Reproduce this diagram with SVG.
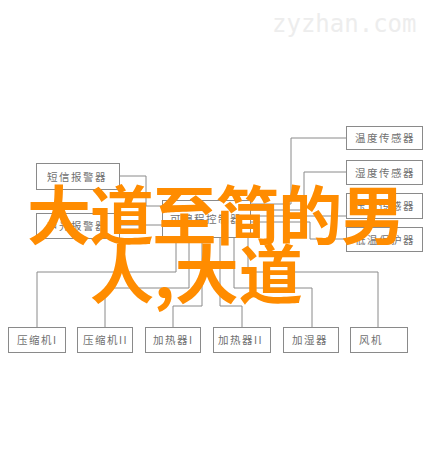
<svg xmlns="http://www.w3.org/2000/svg" width="430" height="472" viewBox="0 0 430 472">
<style>
.box{fill:#fff;stroke:#8a8a8a;stroke-width:1}
.lbl{font-family:"Noto Sans CJK SC","Liberation Serif",serif;font-size:10.5px;fill:#707070;letter-spacing:1.5px}
.wire{fill:none;stroke:#8a8a8a;stroke-width:1}
.big{font-family:"Noto Sans CJK SC","Noto Sans",sans-serif;font-weight:bold;font-size:64px;fill:#ff8c00}
.wm{font-family:"DejaVu Sans Mono","Liberation Mono",monospace;font-size:24px;fill:#ededed}
</style>
<rect width="430" height="472" fill="#fff"/>
<text class="wm" x="272" y="32">zyzhan.com</text>
<g id="connectors">
<path class="wire" d="M37,327V272H176V237"/>
<path class="wire" d="M105,327V288H189V237"/>
<path class="wire" d="M173,327V306H202V237"/>
<path class="wire" d="M242,327V306H220V237"/>
<path class="wire" d="M312,327V288H234V237"/>
<path class="wire" d="M378,327V272H248V237"/>
<path class="wire" d="M250,204H291V138H346"/>
<path class="wire" d="M250,210H304V172H346"/>
<path class="wire" d="M250,216H346"/>
<path class="wire" d="M250,222H310V239H346"/>
<path class="wire" d="M119,176H146V206H162"/>
<path class="wire" d="M119,225H162"/>
</g>
<g id="s1"><rect class="box" x="346.5" y="126.5" width="76" height="23"/><text class="lbl" x="355" y="142">温度传感器</text></g>
<g id="s2"><rect class="box" x="346.5" y="160.5" width="76" height="24"/><text class="lbl" x="355" y="177">湿度传感器</text></g>
<g id="s3"><rect class="box" x="346.5" y="193.5" width="76" height="25"/><text class="lbl" x="355" y="210">压力传感器</text></g>
<g id="s4"><rect class="box" x="346.5" y="227.5" width="76" height="24"/><text class="lbl" x="355" y="244">低温保护器</text></g>
<g id="a1"><rect class="box" x="36.5" y="163.5" width="83" height="26"/><text class="lbl" x="47" y="181">短信报警器</text></g>
<g id="a2"><rect class="box" x="36.5" y="213.5" width="83" height="25"/><text class="lbl" x="47" y="230">声光报警器</text></g>
<g id="ctrl"><rect class="box" x="162.5" y="200.5" width="88" height="37"/><text class="lbl" x="170" y="223">可编程控制器</text></g>
<g id="b1"><rect class="box" x="8.5" y="327.5" width="57" height="25"/><text class="lbl" x="17" y="344">压缩机I</text></g>
<g id="b2"><rect class="box" x="77.5" y="327.5" width="55" height="25"/><text class="lbl" x="83" y="344">压缩机II</text></g>
<g id="b3"><rect class="box" x="145.5" y="327.5" width="55" height="25"/><text class="lbl" x="153" y="344">加热器I</text></g>
<g id="b4"><rect class="box" x="213.5" y="327.5" width="57" height="25"/><text class="lbl" x="218" y="344">加热器II</text></g>
<g id="b5"><rect class="box" x="283.5" y="327.5" width="55" height="25"/><text class="lbl" x="292" y="344">加湿器</text></g>
<g id="b6"><rect class="box" x="350.5" y="327.5" width="57" height="25"/><text class="lbl" x="359" y="344">风机</text></g>
<text class="big" x="27" y="239" textLength="378">大道至简的男</text>
<text class="big" x="90" y="298">人,大道</text>
</svg>
